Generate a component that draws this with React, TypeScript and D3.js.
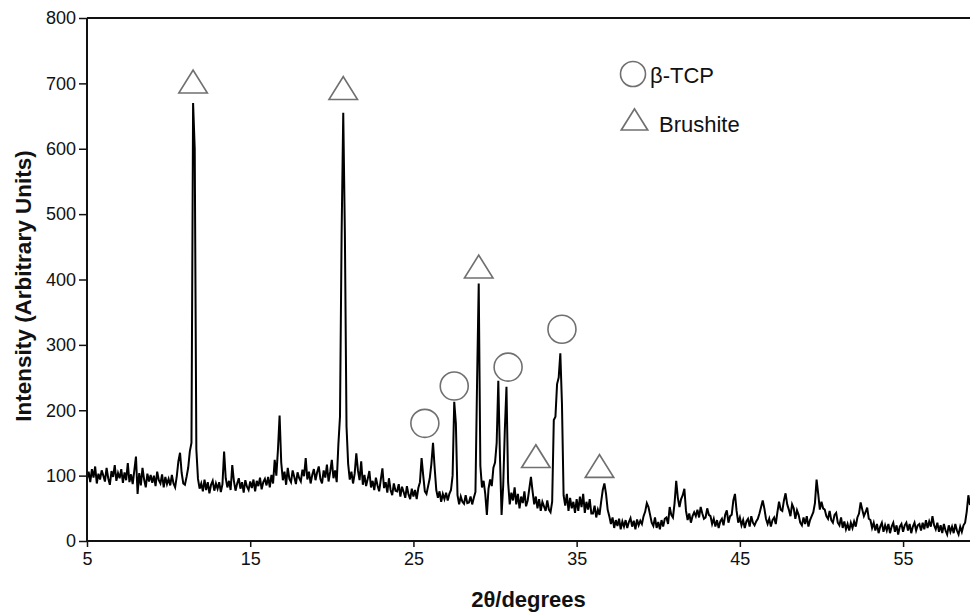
import React, { useRef, useEffect } from 'react';
import * as d3 from 'd3';

// XRD scan: counts every 0.1 degree from 5.0
const scanStart = 5;
const scanStep = 0.1;
const intensity = [
  95, 106, 90, 110, 97, 114, 88, 103, 94, 108,
  100, 91, 112, 96, 86, 107, 98, 116, 92, 104,
  96, 110, 89, 105, 93, 119, 90, 102, 87, 108,
  129, 72, 104, 85, 112, 94, 82, 103, 91, 101,
  89, 100, 84, 106, 93, 88, 102, 82, 98, 87,
  95, 85, 101, 88, 82, 99, 122, 135, 104, 88,
  86, 98, 112, 137, 150, 670, 600, 140, 95, 80,
  88, 76, 94, 78, 90, 73, 86, 92, 77, 88,
  80, 90, 75, 87, 137, 96, 82, 92, 78, 116,
  92, 77, 88, 96, 80, 90, 74, 93, 83, 78,
  91, 81, 94, 76, 92, 84, 97, 79, 90, 95,
  85, 98, 82, 101, 88, 124, 100, 140, 192, 120,
  93, 106, 86, 112, 95, 90, 108, 98, 87, 105,
  96, 91, 109, 99, 127, 94, 106, 88, 101, 110,
  93, 105, 114, 95, 88, 108, 97, 117, 91, 106,
  124, 96, 108, 90, 147, 190, 470, 655, 470, 175,
  118, 94, 106, 88, 103, 134, 108, 93, 122, 86,
  101, 84, 95, 107, 82, 92, 78, 97, 85, 76,
  94, 111, 81, 90, 74, 96, 78, 70, 88, 77,
  76, 87, 68, 83, 75, 66, 84, 71, 64, 80,
  68, 78, 64, 81, 90, 127, 100, 76, 72, 84,
  96, 118, 150, 112, 78, 66, 76, 60, 72, 64,
  74, 62, 72, 78, 100, 213, 180, 70, 56, 68,
  60, 57, 70, 58, 59, 68, 56, 66, 75, 245,
  394, 115, 82, 92, 72, 40, 80, 94, 84, 112,
  120, 150, 245, 130, 40, 85, 170, 236, 90, 56,
  74, 62, 82, 56, 72, 50, 68, 58, 76, 53,
  62, 80, 98, 76, 56, 68, 50, 64, 46, 60,
  53, 46, 62, 48, 44, 60, 185, 190, 240, 250,
  287, 210, 70, 54, 72, 46, 66, 50, 60, 43,
  64, 46, 68, 52, 72, 43, 60, 48, 64, 42,
  42, 54, 36, 48, 40, 60, 78, 88, 72, 48,
  38, 26, 36, 20, 32, 23, 34, 18, 30, 22,
  32, 20, 29, 35, 22, 31, 18, 33, 24, 31,
  26, 38, 45, 58, 52, 40, 28, 23, 36, 20,
  29, 18, 32, 22, 34, 36, 26, 52, 40, 36,
  58, 92, 66, 52, 64, 70, 80, 46, 32, 42,
  28, 38, 44, 38, 48, 36, 52, 42, 34, 36,
  50, 40, 38, 26, 34, 22, 32, 20, 30, 34,
  24, 40, 47, 28, 38, 40, 62, 72, 46, 28,
  36, 24, 32, 20, 30, 34, 22, 38, 28, 24,
  30, 34, 42, 52, 62, 50, 34, 26, 34, 22,
  32, 36, 26, 44, 60, 48, 46, 62, 73, 56,
  48, 38, 56, 50, 34, 47, 40, 28, 24, 36,
  26, 38, 22, 32, 38, 44, 58, 94, 72, 48,
  60, 50, 48, 38, 34, 46, 32, 28, 40, 43,
  28, 24, 36, 20, 30, 18, 26, 16, 28, 20,
  30, 22, 36, 42, 59, 48, 38, 44, 51, 34,
  32, 20, 28, 16, 26, 12, 22, 28, 14, 24,
  16, 26, 12, 22, 28, 14, 24, 10, 22, 26,
  14, 24, 28, 16, 26, 12, 22, 28, 16, 24,
  26, 16, 28, 18, 32, 20, 30, 22, 38, 24,
  18, 28, 14, 24, 12, 26, 16, 10, 24, 14,
  22, 12, 26, 16, 10, 22, 14, 24, 28, 45,
  70, 55
];

// phase markers (2theta, height)
const tcpX = [25.7, 27.5, 30.8, 34.1];
const tcpY = [180, 237, 266, 324];
const brushiteX = [11.5, 20.7, 29.0, 32.5, 36.4];
const brushiteY = [697, 687, 414, 124, 109];

const xTicks = [5, 15, 25, 35, 45, 55];
const yTicks = [0, 100, 200, 300, 400, 500, 600, 700, 800];

const FONT = "'Liberation Sans', Arial, sans-serif";

export default function App() {
  const svgRef = useRef(null);

  useEffect(() => {
    const width = 970, height = 613;
    const left = 87, right = 970, top = 18, bottom = 541;
    const svg = d3.select(svgRef.current)
      .attr('width', width)
      .attr('height', height);
    svg.selectAll('*').remove();

    const x = d3.scaleLinear().domain([5, 59.1]).range([left, right]);
    const y = d3.scaleLinear().domain([0, 800]).range([bottom, top]);

    const points = intensity.map((v, i) => [scanStart + i * scanStep, v]);

    // pattern
    svg.append('path')
      .datum(points)
      .attr('fill', 'none')
      .attr('stroke', '#000')
      .attr('stroke-width', 2)
      .attr('stroke-linejoin', 'miter')
      .attr('d', d3.line().x(d => x(d[0])).y(d => y(d[1])));

    // frame: top, left, bottom
    svg.append('line').attr('x1', left).attr('x2', right).attr('y1', top).attr('y2', top)
      .attr('stroke', '#111').attr('stroke-width', 2);

    const yAxis = svg.append('g')
      .attr('transform', `translate(${left},0)`)
      .call(d3.axisLeft(y).tickValues(yTicks).tickSize(8).tickPadding(3).tickFormat(d3.format('d')));
    const xAxis = svg.append('g')
      .attr('transform', `translate(0,${bottom})`)
      .call(d3.axisBottom(x).tickValues(xTicks).tickSize(6).tickPadding(5).tickFormat(d3.format('d')));

    [xAxis, yAxis].forEach(g => {
      g.select('.domain').attr('stroke', '#111').attr('stroke-width', 2);
      g.selectAll('.tick line').attr('stroke', '#111').attr('stroke-width', 1.5);
      g.selectAll('.tick text').attr('font-family', FONT).attr('font-size', 18).attr('fill', '#111');
    });
    yAxis.select('.domain').attr('d', `M0,${top}V${bottom}`);
    xAxis.select('.domain').attr('d', `M${left},0H${right}`);

    // phase markers
    const markerStroke = '#707070';
    svg.append('g').selectAll('circle')
      .data(tcpX.map((v, i) => [v, tcpY[i]]))
      .enter().append('circle')
      .attr('cx', d => x(d[0]))
      .attr('cy', d => y(d[1]))
      .attr('r', 14)
      .attr('fill', '#fff')
      .attr('stroke', markerStroke)
      .attr('stroke-width', 1.6);

    const tri = d3.symbol(d3.symbolTriangle, 300);
    svg.append('g').selectAll('path')
      .data(brushiteX.map((v, i) => [v, brushiteY[i]]))
      .enter().append('path')
      .attr('d', tri)
      .attr('transform', d => `translate(${x(d[0])},${y(d[1])}) scale(1.08,1)`)
      .attr('fill', '#fff')
      .attr('stroke', markerStroke)
      .attr('stroke-width', 1.6);

    // legend
    const legend = svg.append('g');
    legend.append('circle')
      .attr('cx', 633).attr('cy', 74).attr('r', 12.5)
      .attr('fill', '#fff').attr('stroke', markerStroke).attr('stroke-width', 1.6);
    legend.append('text')
      .attr('x', 650).attr('y', 83)
      .attr('font-family', FONT).attr('font-size', 22).attr('fill', '#111')
      .text('β-TCP');
    legend.append('path')
      .attr('d', d3.symbol(d3.symbolTriangle, 260))
      .attr('transform', 'translate(634.5,123) scale(1.08,1)')
      .attr('fill', '#fff').attr('stroke', markerStroke).attr('stroke-width', 1.6);
    legend.append('text')
      .attr('x', 659).attr('y', 131.5)
      .attr('font-family', FONT).attr('font-size', 22).attr('fill', '#111')
      .text('Brushite');

    // axis titles
    svg.append('text')
      .attr('x', (left + right) / 2).attr('y', 607)
      .attr('text-anchor', 'middle')
      .attr('font-family', FONT).attr('font-size', 22).attr('font-weight', 'bold').attr('fill', '#111')
      .text('2θ/degrees');
    svg.append('text')
      .attr('transform', 'translate(31,286) rotate(-90)')
      .attr('text-anchor', 'middle')
      .attr('font-family', FONT).attr('font-size', 22.5).attr('font-weight', 'bold').attr('fill', '#111')
      .text('Intensity (Arbitrary Units)');
  }, []);

  return (
    <svg ref={svgRef} style={{ position: 'absolute', left: 0, top: 0, background: '#fff' }}></svg>
  );
}
